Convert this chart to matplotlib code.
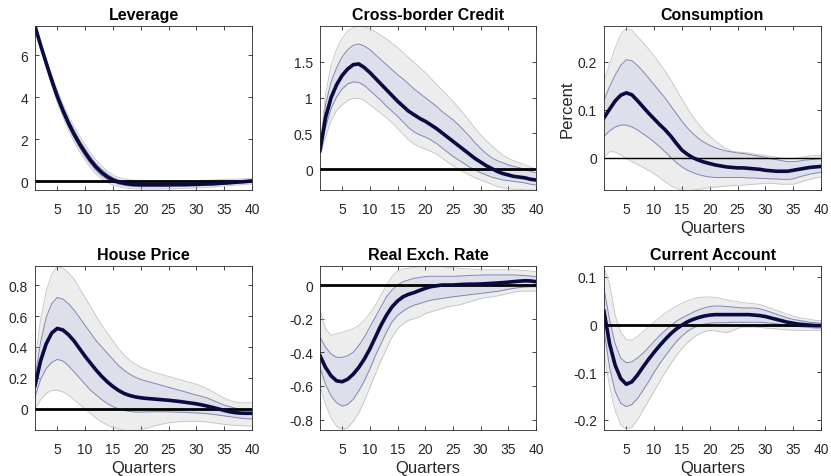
import matplotlib.pyplot as plt
import numpy as np

plt.rcParams['font.family'] = ['Liberation Sans', 'DejaVu Sans']

quarters = np.arange(1, 41)

# Leverage
lev_med = [7.40, 6.50, 5.65, 4.82, 4.05, 3.38, 2.78, 2.25, 1.78, 1.36, 0.98, 0.66, 0.40, 0.20, 0.05, -0.05, -0.11, -0.15, -0.17, -0.18,
           -0.18, -0.18, -0.18, -0.18, -0.18, -0.17, -0.17, -0.17, -0.16, -0.16, -0.15, -0.14, -0.13, -0.11, -0.10, -0.08, -0.06, -0.04, -0.02, 0.00]
lev_hi68 = [7.40, 6.56, 5.75, 4.95, 4.20, 3.54, 2.95, 2.43, 1.96, 1.54, 1.15, 0.82, 0.55, 0.33, 0.16, 0.05, -0.02, -0.06, -0.08, -0.09,
            -0.10, -0.10, -0.10, -0.10, -0.10, -0.10, -0.10, -0.10, -0.09, -0.09, -0.08, -0.07, -0.06, -0.05, -0.04, -0.03, -0.01, 0.01, 0.03, 0.05]
lev_lo68 = [7.40, 6.44, 5.55, 4.69, 3.90, 3.22, 2.61, 2.07, 1.60, 1.18, 0.81, 0.50, 0.25, 0.07, -0.06, -0.15, -0.20, -0.24, -0.26, -0.27,
            -0.27, -0.27, -0.27, -0.27, -0.26, -0.26, -0.25, -0.25, -0.24, -0.23, -0.22, -0.21, -0.20, -0.18, -0.16, -0.14, -0.12, -0.10, -0.08, -0.06]
lev_hi90 = [7.40, 6.62, 5.85, 5.08, 4.35, 3.70, 3.12, 2.62, 2.15, 1.73, 1.34, 1.00, 0.72, 0.48, 0.30, 0.17, 0.10, 0.06, 0.04, 0.03,
            0.02, 0.02, 0.02, 0.02, 0.02, 0.02, 0.02, 0.02, 0.02, 0.03, 0.03, 0.04, 0.05, 0.06, 0.07, 0.08, 0.09, 0.10, 0.11, 0.12]
lev_lo90 = [7.40, 6.38, 5.45, 4.56, 3.75, 3.06, 2.44, 1.89, 1.41, 0.99, 0.63, 0.33, 0.10, -0.07, -0.19, -0.27, -0.32, -0.35, -0.37, -0.38,
            -0.38, -0.38, -0.38, -0.38, -0.37, -0.37, -0.36, -0.35, -0.34, -0.33, -0.32, -0.30, -0.28, -0.26, -0.24, -0.22, -0.20, -0.18, -0.16, -0.14]

# Cross-border Credit
cbc_med = [0.26, 0.72, 1.00, 1.18, 1.31, 1.40, 1.46, 1.47, 1.42, 1.35, 1.27, 1.19, 1.11, 1.03, 0.95, 0.88, 0.81, 0.76, 0.71, 0.67,
           0.62, 0.57, 0.51, 0.45, 0.39, 0.33, 0.27, 0.21, 0.15, 0.10, 0.05, 0.01, -0.03, -0.06, -0.08, -0.10, -0.11, -0.12, -0.14, -0.15]
cbc_hi68 = [0.26, 0.90, 1.22, 1.42, 1.57, 1.67, 1.73, 1.75, 1.72, 1.67, 1.60, 1.53, 1.46, 1.39, 1.32, 1.26, 1.19, 1.12, 1.06, 1.00,
            0.94, 0.88, 0.81, 0.75, 0.69, 0.62, 0.54, 0.46, 0.37, 0.29, 0.22, 0.16, 0.12, 0.09, 0.06, 0.04, 0.02, 0.00, -0.03, -0.05]
cbc_lo68 = [0.26, 0.58, 0.85, 1.01, 1.12, 1.19, 1.22, 1.21, 1.17, 1.10, 1.03, 0.96, 0.88, 0.81, 0.74, 0.66, 0.58, 0.52, 0.48, 0.45,
            0.41, 0.36, 0.30, 0.24, 0.18, 0.13, 0.08, 0.03, -0.01, -0.05, -0.08, -0.11, -0.13, -0.15, -0.16, -0.17, -0.18, -0.19, -0.21, -0.22]
cbc_hi90 = [0.30, 1.05, 1.45, 1.68, 1.83, 1.93, 1.98, 2.00, 1.99, 1.96, 1.92, 1.87, 1.82, 1.76, 1.70, 1.63, 1.56, 1.49, 1.42, 1.35,
            1.27, 1.19, 1.11, 1.03, 0.95, 0.86, 0.77, 0.67, 0.57, 0.48, 0.40, 0.33, 0.26, 0.20, 0.15, 0.12, 0.09, 0.06, 0.03, 0.00]
cbc_lo90 = [0.20, 0.45, 0.68, 0.82, 0.90, 0.96, 0.99, 0.99, 0.96, 0.90, 0.84, 0.78, 0.72, 0.65, 0.57, 0.49, 0.41, 0.35, 0.31, 0.28,
            0.25, 0.21, 0.16, 0.10, 0.05, 0.00, -0.04, -0.08, -0.12, -0.15, -0.18, -0.21, -0.24, -0.26, -0.27, -0.28, -0.28, -0.29, -0.29, -0.29]

# Consumption
con_med = [0.083, 0.101, 0.118, 0.130, 0.135, 0.131, 0.119, 0.106, 0.093, 0.081, 0.069, 0.058, 0.045, 0.030, 0.016, 0.007, 0.000, -0.005, -0.009, -0.012,
           -0.015, -0.017, -0.019, -0.020, -0.021, -0.021, -0.022, -0.023, -0.024, -0.026, -0.027, -0.028, -0.028, -0.028, -0.026, -0.024, -0.022, -0.020, -0.019, -0.018]
con_hi68 = [0.120, 0.148, 0.172, 0.192, 0.204, 0.202, 0.192, 0.180, 0.166, 0.152, 0.138, 0.124, 0.108, 0.092, 0.076, 0.062, 0.050, 0.040, 0.032, 0.026,
            0.021, 0.017, 0.014, 0.012, 0.010, 0.009, 0.007, 0.005, 0.003, 0.001, -0.002, -0.004, -0.006, -0.008, -0.008, -0.007, -0.005, -0.004, -0.003, -0.002]
con_lo68 = [0.045, 0.056, 0.064, 0.068, 0.068, 0.064, 0.058, 0.050, 0.042, 0.033, 0.023, 0.012, 0.001, -0.010, -0.019, -0.026, -0.031, -0.035, -0.038, -0.040,
            -0.041, -0.041, -0.041, -0.041, -0.041, -0.041, -0.042, -0.042, -0.043, -0.043, -0.044, -0.044, -0.045, -0.045, -0.044, -0.040, -0.037, -0.034, -0.032, -0.030]
con_hi90 = [0.160, 0.195, 0.228, 0.256, 0.270, 0.265, 0.252, 0.240, 0.226, 0.212, 0.196, 0.180, 0.162, 0.142, 0.122, 0.103, 0.085, 0.070, 0.056, 0.045,
            0.035, 0.026, 0.019, 0.014, 0.012, 0.011, 0.010, 0.008, 0.006, 0.005, 0.003, 0.001, -0.001, -0.002, -0.002, 0.000, 0.002, 0.004, 0.005, 0.005]
con_lo90 = [0.000, 0.013, 0.012, 0.006, -0.002, -0.008, -0.014, -0.020, -0.026, -0.033, -0.041, -0.050, -0.058, -0.064, -0.067, -0.068, -0.067, -0.066, -0.064, -0.062,
            -0.061, -0.060, -0.059, -0.058, -0.058, -0.057, -0.056, -0.055, -0.054, -0.053, -0.053, -0.054, -0.055, -0.055, -0.055, -0.052, -0.048, -0.045, -0.042, -0.040]

# House Price
hp_med = [0.15, 0.31, 0.42, 0.49, 0.52, 0.51, 0.48, 0.44, 0.39, 0.34, 0.295, 0.25, 0.21, 0.175, 0.145, 0.12, 0.10, 0.087, 0.078, 0.072,
          0.068, 0.065, 0.062, 0.059, 0.056, 0.052, 0.048, 0.043, 0.038, 0.033, 0.026, 0.018, 0.009, 0.000, -0.010, -0.018, -0.024, -0.027, -0.028, -0.028]
hp_hi68 = [0.20, 0.43, 0.59, 0.68, 0.72, 0.71, 0.68, 0.64, 0.59, 0.54, 0.49, 0.44, 0.40, 0.36, 0.32, 0.28, 0.25, 0.225, 0.205, 0.19,
           0.18, 0.17, 0.16, 0.15, 0.14, 0.13, 0.12, 0.11, 0.10, 0.09, 0.08, 0.07, 0.055, 0.04, 0.025, 0.015, 0.005, -0.003, -0.008, -0.01]
hp_lo68 = [0.08, 0.19, 0.26, 0.30, 0.32, 0.31, 0.28, 0.24, 0.20, 0.16, 0.12, 0.09, 0.06, 0.035, 0.015, 0.0, -0.01, -0.016, -0.02, -0.02,
           -0.019, -0.018, -0.018, -0.018, -0.019, -0.02, -0.021, -0.022, -0.024, -0.026, -0.028, -0.031, -0.035, -0.04, -0.045, -0.05, -0.055, -0.06, -0.063, -0.065]
hp_hi90 = [0.30, 0.58, 0.76, 0.87, 0.92, 0.91, 0.88, 0.84, 0.78, 0.72, 0.66, 0.60, 0.54, 0.49, 0.44, 0.39, 0.35, 0.315, 0.29, 0.27,
           0.255, 0.24, 0.23, 0.22, 0.21, 0.20, 0.19, 0.18, 0.17, 0.16, 0.145, 0.13, 0.11, 0.09, 0.07, 0.055, 0.045, 0.04, 0.04, 0.04]
hp_lo90 = [0.00, 0.06, 0.10, 0.12, 0.12, 0.11, 0.09, 0.06, 0.03, 0.00, -0.03, -0.06, -0.085, -0.105, -0.12, -0.13, -0.137, -0.14, -0.14, -0.135,
           -0.125, -0.115, -0.105, -0.097, -0.09, -0.085, -0.082, -0.08, -0.08, -0.08, -0.082, -0.085, -0.09, -0.095, -0.10, -0.103, -0.106, -0.108, -0.11, -0.11]

# Real Exch. Rate
rer_med = [-0.42, -0.49, -0.54, -0.57, -0.575, -0.56, -0.53, -0.49, -0.44, -0.38, -0.31, -0.24, -0.18, -0.13, -0.095, -0.07, -0.055, -0.045, -0.032, -0.02,
           -0.01, -0.005, 0.0, 0.0, 0.0, 0.002, 0.004, 0.005, 0.005, 0.006, 0.008, 0.01, 0.012, 0.014, 0.017, 0.02, 0.023, 0.025, 0.024, 0.02]
rer_hi68 = [-0.31, -0.37, -0.41, -0.43, -0.43, -0.42, -0.40, -0.36, -0.31, -0.25, -0.19, -0.13, -0.07, -0.03, 0.0, 0.02, 0.03, 0.04, 0.045, 0.05,
            0.052, 0.052, 0.052, 0.052, 0.052, 0.053, 0.055, 0.057, 0.058, 0.059, 0.06, 0.06, 0.06, 0.06, 0.06, 0.06, 0.058, 0.056, 0.053, 0.05]
rer_lo68 = [-0.49, -0.59, -0.66, -0.70, -0.72, -0.71, -0.68, -0.63, -0.57, -0.50, -0.42, -0.35, -0.28, -0.22, -0.18, -0.155, -0.135, -0.12, -0.11, -0.10,
            -0.09, -0.085, -0.08, -0.075, -0.07, -0.066, -0.062, -0.058, -0.054, -0.05, -0.046, -0.042, -0.038, -0.032, -0.025, -0.02, -0.015, -0.012, -0.01, -0.01]
rer_hi90 = [-0.15, -0.26, -0.30, -0.29, -0.28, -0.27, -0.26, -0.24, -0.21, -0.17, -0.12, -0.06, 0.0, 0.05, 0.085, 0.095, 0.10, 0.105, 0.108, 0.11,
            0.11, 0.11, 0.108, 0.105, 0.103, 0.10, 0.098, 0.095, 0.093, 0.092, 0.09, 0.09, 0.09, 0.09, 0.09, 0.09, 0.088, 0.086, 0.083, 0.08]
rer_lo90 = [-0.60, -0.71, -0.79, -0.84, -0.86, -0.85, -0.81, -0.76, -0.69, -0.61, -0.53, -0.45, -0.38, -0.31, -0.26, -0.23, -0.21, -0.20, -0.19, -0.17,
            -0.16, -0.15, -0.14, -0.13, -0.125, -0.12, -0.11, -0.10, -0.09, -0.08, -0.075, -0.07, -0.065, -0.058, -0.05, -0.042, -0.038, -0.036, -0.036, -0.036]

# Current Account
ca_med = [0.028, -0.04, -0.085, -0.113, -0.125, -0.12, -0.106, -0.089, -0.073, -0.058, -0.044, -0.031, -0.019, -0.009, -0.001, 0.006, 0.011, 0.015, 0.018, 0.02,
          0.021, 0.021, 0.021, 0.021, 0.021, 0.021, 0.021, 0.02, 0.019, 0.017, 0.014, 0.011, 0.008, 0.005, 0.003, 0.001, 0.0, -0.001, -0.002, -0.002]
ca_hi68 = [0.075, 0.01, -0.04, -0.07, -0.08, -0.078, -0.07, -0.06, -0.048, -0.035, -0.023, -0.012, -0.002, 0.007, 0.014, 0.02, 0.026, 0.031, 0.035, 0.038,
           0.039, 0.039, 0.038, 0.037, 0.036, 0.035, 0.035, 0.035, 0.033, 0.03, 0.026, 0.022, 0.018, 0.014, 0.011, 0.009, 0.007, 0.005, 0.004, 0.003]
ca_lo68 = [-0.01, -0.09, -0.14, -0.165, -0.172, -0.168, -0.155, -0.138, -0.12, -0.10, -0.082, -0.066, -0.05, -0.036, -0.024, -0.014, -0.007, -0.002, 0.001, 0.003,
           0.004, 0.004, 0.004, 0.005, 0.005, 0.005, 0.005, 0.005, 0.005, 0.004, 0.003, 0.002, 0.0, -0.002, -0.003, -0.004, -0.005, -0.006, -0.007, -0.007]
ca_hi90 = [0.12, 0.085, 0.02, -0.015, -0.032, -0.032, -0.025, -0.015, -0.005, 0.005, 0.015, 0.024, 0.032, 0.039, 0.045, 0.05, 0.054, 0.057, 0.058, 0.058,
           0.057, 0.055, 0.052, 0.05, 0.048, 0.046, 0.045, 0.044, 0.042, 0.038, 0.034, 0.03, 0.026, 0.022, 0.018, 0.015, 0.013, 0.011, 0.009, 0.008]
ca_lo90 = [-0.06, -0.13, -0.18, -0.21, -0.22, -0.215, -0.20, -0.18, -0.16, -0.14, -0.12, -0.10, -0.082, -0.065, -0.05, -0.038, -0.028, -0.02, -0.015, -0.012,
           -0.013, -0.015, -0.017, -0.013, -0.008, -0.005, -0.005, -0.005, -0.006, -0.007, -0.008, -0.009, -0.01, -0.011, -0.012, -0.012, -0.012, -0.012, -0.012, -0.012]

titles = ['Leverage', 'Cross-border Credit', 'Consumption', 'House Price', 'Real Exch. Rate', 'Current Account']
panels = [
    (lev_med, lev_lo68, lev_hi68, lev_lo90, lev_hi90, (-0.43, 7.41), [0, 2, 4, 6], ['0', '2', '4', '6']),
    (cbc_med, cbc_lo68, cbc_hi68, cbc_lo90, cbc_hi90, (-0.29, 2.0), [0, 0.5, 1, 1.5], ['0', '0.5', '1', '1.5']),
    (con_med, con_lo68, con_hi68, con_lo90, con_hi90, (-0.067, 0.274), [0, 0.1, 0.2], ['0', '0.1', '0.2']),
    (hp_med, hp_lo68, hp_hi68, hp_lo90, hp_hi90, (-0.136, 0.923), [0, 0.2, 0.4, 0.6, 0.8], ['0', '0.2', '0.4', '0.6', '0.8']),
    (rer_med, rer_lo68, rer_hi68, rer_lo90, rer_hi90, (-0.862, 0.113), [-0.8, -0.6, -0.4, -0.2, 0], ['-0.8', '-0.6', '-0.4', '-0.2', '0']),
    (ca_med, ca_lo68, ca_hi68, ca_lo90, ca_hi90, (-0.221, 0.123), [-0.2, -0.1, 0, 0.1], ['-0.2', '-0.1', '0', '0.1']),
]

lefts = [35, 320, 604]
widths = [217, 216, 217]
tops = [27, 267]
H = 164

fig = plt.figure(figsize=(8.31, 4.77), dpi=100)
for i, (med, lo68, hi68, lo90, hi90, ylim, yt, ytl) in enumerate(panels):
    r, c = divmod(i, 3)
    ax = fig.add_axes([lefts[c] / 831, 1 - (tops[r] + H) / 477, widths[c] / 831, H / 477])
    ax.fill_between(quarters, lo90, hi90, color='#ededed', lw=0)
    ax.plot(quarters, lo90, color='#c4c4c4', lw=0.6)
    ax.plot(quarters, hi90, color='#c4c4c4', lw=0.6)
    ax.fill_between(quarters, lo68, hi68, color='#dddfea', lw=0)
    ax.plot(quarters, lo68, color='#8387b3', lw=0.7)
    ax.plot(quarters, hi68, color='#8387b3', lw=0.7)
    ax.axhline(0, color='black', lw=1.0 if i == 2 else 2.0)
    ax.plot(quarters, med, color='#0a0a42', lw=2.6)
    ax.set_xlim(1, 40)
    ax.set_ylim(*ylim)
    ax.set_xticks([5, 10, 15, 20, 25, 30, 35, 40])
    ax.set_yticks(yt)
    ax.set_yticklabels(ytl)
    ax.tick_params(direction='in', top=True, right=True, length=3, width=0.6,
                   labelsize=10, colors='#262626')
    ax.tick_params(axis='x', pad=8.5)
    ax.tick_params(axis='y', pad=5)
    for s in ax.spines.values():
        s.set_color('#262626')
        s.set_linewidth(0.6)
    ax.set_title(titles[i], fontsize=11.5, fontweight='bold', pad=5)
    if i >= 2:
        ax.set_xlabel('Quarters', fontsize=12, color='#262626', labelpad=3)
    if i == 2:
        ax.set_ylabel('Percent', fontsize=12, color='#262626', labelpad=2)

fig.savefig('out.png', dpi=100)
